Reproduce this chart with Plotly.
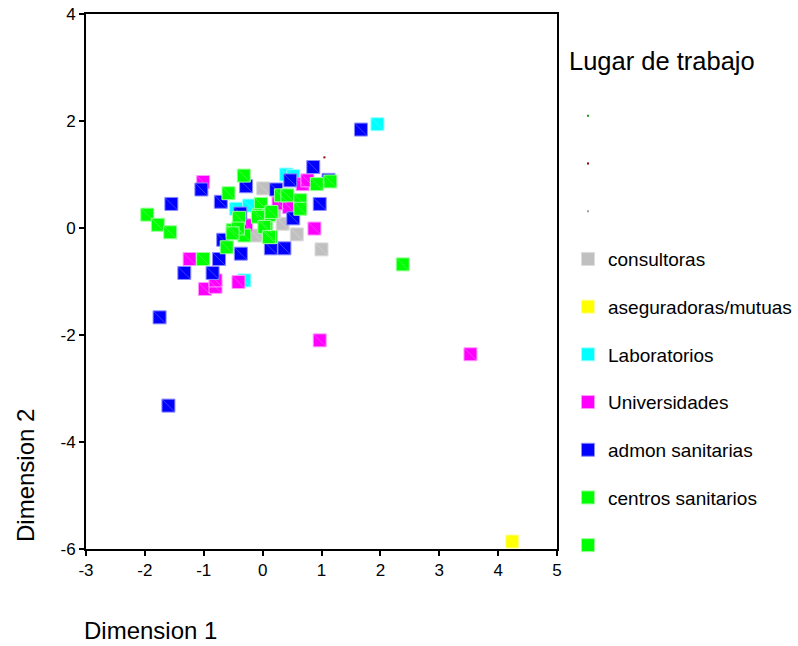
import plotly.graph_objects as go

# Category scores on the two dimensions, by workplace
consultoras_x = [0.01, 0.34, 0.58, 1.00, -0.12, 0.20]
consultoras_y = [0.74, 0.08, -0.12, -0.40, -0.14, 0.30]

aseguradoras_x = [4.24]
aseguradoras_y = [-5.86]

laboratorios_x = [0.40, 0.52, 1.95, -0.45, -0.23, -0.31]
laboratorios_y = [1.00, 0.97, 1.94, 0.36, 0.42, -0.98]

universidades_x = [-1.01, -1.24, -0.98, -0.80, -0.80, -0.41, 0.88, 0.68, 0.76,
                   0.27, 0.45, -0.28, 0.97, 3.53]
universidades_y = [0.86, -0.58, -1.14, -1.10, -0.98, -1.01, -0.01, 0.82, 0.89,
                   0.46, 0.39, 0.05, -2.10, -2.36]

admon_x = [-1.55, -1.04, -0.28, -0.71, -0.38, -0.67, -0.37, -0.74, -1.33, -0.85,
           0.14, 0.37, 0.52, 0.47, 0.86, 1.12, 0.97, 1.67, 0.23, -1.75, -1.60]
admon_y = [0.45, 0.72, 0.78, 0.49, 0.27, -0.22, -0.48, -0.58, -0.84, -0.84,
           -0.38, -0.38, 0.18, 0.89, 1.14, 0.90, 0.45, 1.84, 0.72, -1.67, -3.32]

centros_x = [-1.96, -1.78, -1.57, -0.32, -0.58, -1.01, -0.03, -0.40, -0.51, -0.61,
             -0.31, -0.06, 0.06, 0.14, 0.31, 0.42, 0.64, 0.64, 0.92, 1.15, 2.38,
             0.11, -0.08, 0.03, 0.11, -0.42, -0.51]
centros_y = [0.25, 0.06, -0.08, 0.98, 0.65, -0.58, 0.45, 0.19, -0.04, -0.36,
             -0.14, 0.24, 0.02, -0.17, 0.61, 0.61, 0.52, 0.36, 0.82, 0.87, -0.68,
             0.24, 0.21, 0.02, -0.17, -0.01, -0.10]

sin_lugar_x = [0.15]
sin_lugar_y = [0.30]

# Small reference points
punto_verde_x, punto_verde_y = [0.20], [0.40]
punto_rojo_x, punto_rojo_y = [1.05], [1.32]
punto_gris_x, punto_gris_y = [0.10], [0.10]

x_ticks = [-3, -2, -1, 0, 1, 2, 3, 4, 5]
y_ticks = [-6, -4, -2, 0, 2, 4]

FONT = "Arial, Liberation Sans, sans-serif"

# plot area in pixels
PL, PR, PT, PB = 86, 557, 14, 549
W, H = 798, 646


def px_x(px):
    return (px - PL) / (PR - PL)


def px_y(py):
    return (PB - py) / (PB - PT)


fig = go.Figure()

dots = [
    (punto_verde_x, punto_verde_y, "#1a9a1a"),
    (punto_rojo_x, punto_rojo_y, "#8b0000"),
    (punto_gris_x, punto_gris_y, "#a0a0a0"),
]
for i, (xs, ys, col) in enumerate(dots):
    fig.add_trace(go.Scatter(
        x=xs, y=ys, mode="markers", name=" ",
        legendgroup=f"d{i}", legendrank=i + 1,
        marker=dict(symbol="square", size=2, color=col, line=dict(width=0)),
        hoverinfo="skip",
    ))

groups = [
    ("consultoras", consultoras_x, consultoras_y, "#c0c0c0", "#dcdcdc"),
    ("aseguradoras/mutuas", aseguradoras_x, aseguradoras_y, "#ffff00", "#ffff99"),
    ("Laboratorios", laboratorios_x, laboratorios_y, "#00ffff", "#99ffff"),
    ("Universidades", universidades_x, universidades_y, "#ff00ff", "#ff99ff"),
    ("admon sanitarias", admon_x, admon_y, "#0000ff", "#8c8cff"),
    ("centros sanitarios", centros_x, centros_y, "#00ff00", "#99ff99"),
    (" ", sin_lugar_x, sin_lugar_y, "#00ff00", "#99ff99"),
]
for i, (name, xs, ys, col, edge) in enumerate(groups):
    fig.add_trace(go.Scatter(
        x=xs, y=ys, mode="markers", name=name,
        legendgroup=f"g{i}", legendrank=10 + i,
        marker=dict(symbol="square", size=13, color=col,
                    line=dict(width=1, color=edge)),
    ))
    # faint diagonal stroke on each square
    fig.add_trace(go.Scatter(
        x=xs, y=ys, mode="markers", showlegend=False, hoverinfo="skip",
        marker=dict(symbol="line-nw", size=12, color=col,
                    line=dict(width=0.7, color="rgba(255,255,255,0.35)")),
    ))

axis_common = dict(
    showgrid=False, zeroline=False, showline=True, linecolor="black",
    linewidth=2, mirror=True, ticks="outside", ticklen=5, tickwidth=1.5,
    tickcolor="black", automargin=False,
    tickfont=dict(family=FONT, size=17, color="black"),
)
fig.update_xaxes(range=[-3, 5], tickvals=x_ticks,
                 ticktext=[str(v) for v in x_ticks], **axis_common)
fig.update_yaxes(range=[-6, 4], tickvals=y_ticks,
                 ticktext=[str(v) for v in y_ticks], **axis_common)

fig.add_annotation(
    text="Dimension 1", xref="paper", yref="paper",
    x=px_x(82), y=px_y(630), xanchor="left", yanchor="middle",
    showarrow=False, font=dict(family=FONT, size=24, color="black"),
)
fig.add_annotation(
    text="Dimension 2", xref="paper", yref="paper",
    x=px_x(25), y=px_y(476), xanchor="center", yanchor="middle",
    textangle=-90, showarrow=False,
    font=dict(family=FONT, size=24, color="black"),
)
fig.add_annotation(
    text="Lugar de trabajo", xref="paper", yref="paper",
    x=px_x(567), y=px_y(61), xanchor="left", yanchor="middle",
    showarrow=False, font=dict(family=FONT, size=25.5, color="black"),
)

fig.update_layout(
    width=W, height=H,
    margin=dict(l=PL, r=W - PR, t=PT, b=H - PB, autoexpand=False),
    paper_bgcolor="white", plot_bgcolor="white",
    showlegend=True,
    legend=dict(
        x=px_x(568), y=px_y(97), xanchor="left", yanchor="top",
        font=dict(family=FONT, size=19, color="black"),
        tracegroupgap=20, itemsizing="trace", bgcolor="rgba(0,0,0,0)",
        traceorder="grouped",
    ),
)

fig.write_html("out.html")
